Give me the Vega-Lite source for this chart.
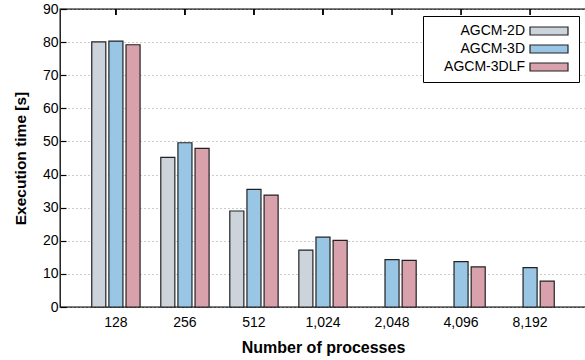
{
  "$schema": "https://vega.github.io/schema/vega-lite/v6.json",
  "width": 526,
  "height": 298,
  "autosize": "none",
  "padding": {"left": 60, "top": 9, "right": 0, "bottom": 53},
  "config": {
    "view": {"stroke": "#000", "strokeWidth": 1.3},
    "font": "Liberation Sans",
    "axis": {"labelFont": "Liberation Sans", "titleFont": "Liberation Sans", "labelColor": "#000", "titleColor": "#000"}
  },
  "data": {
    "values": [
      {"procs": "128", "impl": "AGCM-2D", "time": 80.1},
      {"procs": "128", "impl": "AGCM-3D", "time": 80.3},
      {"procs": "128", "impl": "AGCM-3DLF", "time": 79.2},
      {"procs": "256", "impl": "AGCM-2D", "time": 45.2},
      {"procs": "256", "impl": "AGCM-3D", "time": 49.6},
      {"procs": "256", "impl": "AGCM-3DLF", "time": 47.9},
      {"procs": "512", "impl": "AGCM-2D", "time": 29.0},
      {"procs": "512", "impl": "AGCM-3D", "time": 35.5},
      {"procs": "512", "impl": "AGCM-3DLF", "time": 33.8},
      {"procs": "1,024", "impl": "AGCM-2D", "time": 17.2},
      {"procs": "1,024", "impl": "AGCM-3D", "time": 21.1},
      {"procs": "1,024", "impl": "AGCM-3DLF", "time": 20.1},
      {"procs": "2,048", "impl": "AGCM-3D", "time": 14.3},
      {"procs": "2,048", "impl": "AGCM-3DLF", "time": 14.1},
      {"procs": "4,096", "impl": "AGCM-3D", "time": 13.7},
      {"procs": "4,096", "impl": "AGCM-3DLF", "time": 12.1},
      {"procs": "8,192", "impl": "AGCM-3D", "time": 11.9},
      {"procs": "8,192", "impl": "AGCM-3DLF", "time": 7.8}
    ]
  },
  "resolve": {"axis": {"x": "independent", "y": "independent"}},
  "layer": [
    {
      "mark": {"type": "bar", "stroke": "#222", "strokeWidth": 1.2},
      "encoding": {
        "x": {
          "field": "procs", "type": "nominal", "sort": null,
          "scale": {"paddingInner": 0.3, "paddingOuter": 0.46},
          "axis": {"orient": "bottom", "title": "Number of processes", "labelAngle": 0, "ticks": false, "domain": false,
                   "labelFontSize": 14, "labelPadding": 8, "titleFontSize": 16, "titleFontWeight": "bold", "titlePadding": 10}
        },
        "xOffset": {
          "field": "impl", "type": "nominal",
          "scale": {"domain": ["AGCM-2D", "AGCM-3D", "AGCM-3DLF"], "paddingInner": 0.18, "paddingOuter": 0}
        },
        "y": {
          "field": "time", "type": "quantitative",
          "scale": {"domain": [0, 90], "nice": false},
          "axis": {"orient": "left", "title": "Execution time [s]", "values": [0,10,20,30,40,50,60,70,80,90], "labelOverlap": false,
                   "ticks": true, "tickSize": -6, "tickColor": "#000", "tickWidth": 1.2, "tickOpacity": 1, "domain": false,
                   "grid": true, "gridDash": [1, 3], "gridColor": "#999", "gridWidth": 1,
                   "labelFontSize": 14, "labelPadding": 8, "titleFontSize": 15.5, "titleFontWeight": "bold", "titlePadding": 14}
        },
        "color": {
          "field": "impl", "type": "nominal",
          "scale": {"domain": ["AGCM-2D", "AGCM-3D", "AGCM-3DLF"], "range": ["#cdd3db", "#9ac6e6", "#d9a1ab"]},
          "legend": {
            "title": null, "orient": "top-right", "offset": 7,
            "symbolType": "M23,-1H32.5V1H23Z", "symbolSize": 64,
            "symbolStrokeColor": "#222", "symbolStrokeWidth": 1.2,
            "labelAlign": "right", "labelOffset": 80, "labelFontSize": 14, "labelColor": "#000",
            "rowPadding": 4, "padding": 8,
            "strokeColor": "#000", "fillColor": "#fff"
          }
        }
      }
    },
    {
      "mark": {"type": "rule", "color": "#000", "strokeWidth": 1.2},
      "encoding": {
        "x": {"field": "procs", "type": "nominal", "sort": null, "axis": null},
        "y": {"datum": 90, "type": "quantitative", "axis": null},
        "y2": {"datum": 88.2}
      }
    }
  ]
}
